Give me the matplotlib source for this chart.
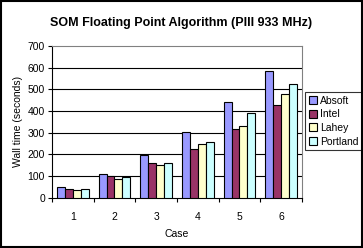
import matplotlib.pyplot as plt
import numpy as np
from matplotlib.patches import Rectangle

plt.rcParams['font.family'] = ['Liberation Sans', 'DejaVu Sans']

cases = ["1", "2", "3", "4", "5", "6"]
absoft = [49, 109, 197, 304, 442, 585]
intel = [40, 99, 160, 225, 317, 428]
lahey = [35, 86, 151, 248, 331, 478]
portland = [40, 97, 163, 257, 391, 524]

series = [("Absoft", absoft, "#9999FF"),
          ("Intel", intel, "#993366"),
          ("Lahey", lahey, "#FFFFCC"),
          ("Portland", portland, "#CCFFFF")]

fig = plt.figure(figsize=(3.63, 2.48), dpi=100)
ax = fig.add_axes([0.143, 0.202, 0.689, 0.613])

x = np.arange(len(cases))
w = 0.19
for i, (name, vals, col) in enumerate(series):
    ax.bar(x + (i - 1.5) * w, vals, w, color=col, edgecolor="black",
           linewidth=0.8, label=name, zorder=3)

ax.set_xlim(-0.5, len(cases) - 0.5)
ax.set_ylim(0, 700)
ax.set_yticks(range(0, 701, 100))
ax.set_xticks(x)
ax.set_xticklabels(cases)
ax.set_xticks(np.arange(-0.5, len(cases)), minor=True)
ax.tick_params(axis="x", which="major", length=0, pad=10, labelsize=7.5)
ax.tick_params(axis="x", which="minor", length=3, direction="out", width=0.8)
ax.tick_params(axis="y", length=3, direction="out", width=0.8, labelsize=7.5, pad=2)

for v in range(100, 700, 100):
    ax.axhline(v, color="black", linewidth=0.8, zorder=1)

ax.spines["left"].set_linewidth(0.8)
ax.spines["bottom"].set_linewidth(0.8)
ax.spines["top"].set_color("#808080")
ax.spines["right"].set_color("#808080")

ax.set_xlabel("Case", fontsize=7.5, labelpad=5)
ax.set_ylabel("Wall time (seconds)", fontsize=7.5, labelpad=3)
fig.suptitle("SOM Floating Point Algorithm (PIII 933 MHz)", fontsize=9,
             fontweight="bold", y=0.93)

leg = ax.legend(loc="upper left", bbox_to_anchor=(305 / 363, 1 - 92 / 248),
                bbox_transform=fig.transFigure, fontsize=7.5, frameon=True,
                fancybox=False, edgecolor="black", handlelength=0.8,
                handleheight=0.8, handletextpad=0.3, borderpad=0.35,
                labelspacing=0.35, borderaxespad=0)
leg.get_frame().set_linewidth(0.8)

fig.patches.append(Rectangle((0.002, 0.003), 0.995, 0.994, transform=fig.transFigure,
                             fill=False, edgecolor="black", linewidth=1.5))

fig.savefig("out.png", dpi=100)
